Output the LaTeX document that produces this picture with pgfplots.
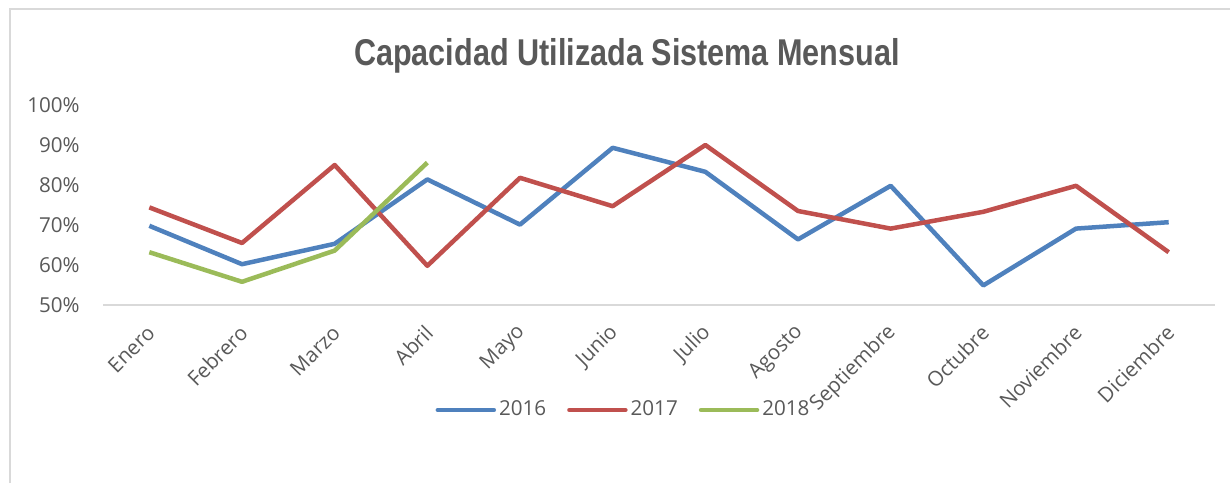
\documentclass[border=0pt]{standalone}
\usepackage{fontspec}
\setmainfont{Open Sans}
\newfontfamily\titlefont{Liberation Sans}[FakeStretch=0.82]
\usepackage{pgfplots}
\usepackage{pgfplotstable}
\pgfplotsset{compat=1.18}
\definecolor{c16}{HTML}{4F81BD}
\definecolor{c17}{HTML}{C0504D}
\definecolor{c18}{HTML}{9BBB59}
\definecolor{txt}{HTML}{595959}
\definecolor{bordergray}{HTML}{D9D9D9}
\pgfplotstableread{
x y16 y17
0 69.8 74.4
1 60.2 65.5
2 65.3 85.0
3 81.4 59.8
4 70.1 81.8
5 89.3 74.7
6 83.3 90.0
7 66.4 73.5
8 79.8 69.1
9 54.9 73.3
10 69.1 79.8
11 70.7 63.2
}\datamain
\pgfplotstableread{
x y18
0 63.2
1 55.8
2 63.6
3 85.6
}\dataeighteen
\begin{document}
\begin{tikzpicture}
\useasboundingbox (0,0) rectangle (615pt,241.5pt);
\draw[bordergray, line width=1pt] (5pt,0) -- (5pt,237pt) -- (615pt,237pt);
\begin{axis}[
  at={(51.5pt,89pt)}, anchor=south west,
  scale only axis, width=556pt, height=100pt,
  xmin=-0.5, xmax=11.5, ymin=50, ymax=100,
  xtick={0,...,11},
  xticklabels={Enero,Febrero,Marzo,Abril,Mayo,Junio,Julio,Agosto,Septiembre,Octubre,Noviembre,Diciembre},
  ytick={50,60,...,100},
  yticklabel={\pgfmathprintnumber{\tick}\%},
  /pgf/number format/assume math mode=true,
  axis line style={draw=none},
  major tick length=0pt,
  tick label style={font=\fontsize{10.3}{12}\selectfont, text=txt},
  yticklabel style={anchor=east, inner sep=0pt, xshift=-11.5pt},
  xticklabel style={anchor=east, inner sep=0pt, yshift=-12pt, xshift=1pt, rotate=45},
  title={Capacidad Utilizada Sistema Mensual},
  every axis title shift=0pt,
  title style={font=\titlefont\bfseries\fontsize{18.65}{22}\selectfont, text=txt, at={(0.4712,1.2)}, anchor=base, inner sep=0pt},
  legend style={at={(0.4685,-0.525)}, anchor=center, draw=none, fill=none,
    legend columns=3, font=\fontsize{10.3}{12}\selectfont, text=txt,
    /tikz/every even column/.append style={column sep=9pt},
    nodes={inner sep=1.5pt}},
  legend image code/.code={\draw[#1, line cap=round] (0pt,0pt) -- (28pt,0pt);},
  clip=false,
  every axis plot/.append style={line width=2.25pt, line join=round, mark=none},
]
\draw[bordergray, line width=1pt] (rel axis cs:0,0) -- (rel axis cs:1,0);
\addplot[c16] table[x=x, y=y16] {\datamain};
\addlegendentry{2016}
\addplot[c17] table[x=x, y=y17] {\datamain};
\addlegendentry{2017}
\addplot[c18] table[x=x, y=y18] {\dataeighteen};
\addlegendentry{2018}
\end{axis}
\end{tikzpicture}
\end{document}
